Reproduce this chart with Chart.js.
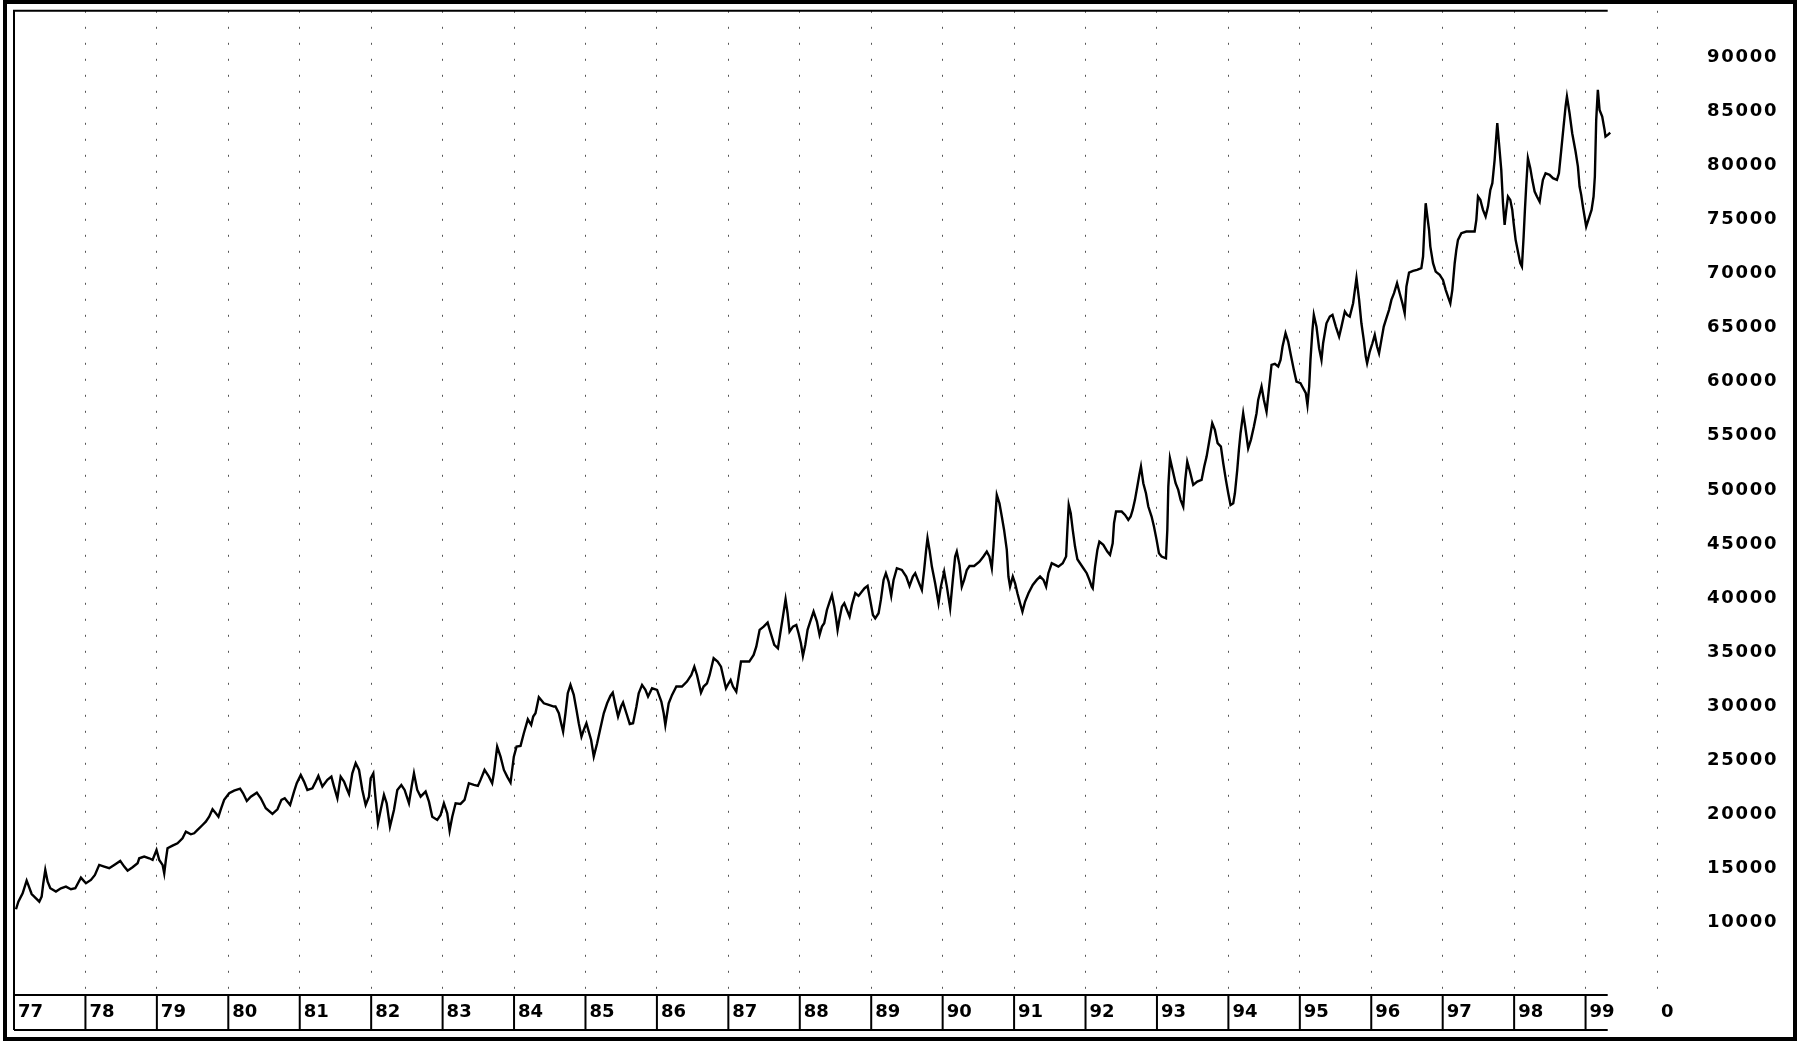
<!DOCTYPE html>
<html>
<head>
<meta charset="utf-8">
<script src="https://cdn.jsdelivr.net/npm/chart.js@4"></script>
<style>
  html, body { margin: 0; padding: 0; background: #fff; }
</style>
</head>
<body>
<canvas id="myChart" width="1804" height="1058"></canvas>
<script>
// time (decimal year) of each vertex
let years = [
  1977.028, 1977.061, 1977.121, 1977.177, 1977.200, 1977.247, 1977.308, 1977.354, 1977.387, 1977.410,
  1977.438, 1977.471, 1977.508, 1977.587, 1977.657, 1977.727, 1977.797, 1977.858, 1977.937, 1978.007,
  1978.077, 1978.133, 1978.193, 1978.263, 1978.333, 1978.403, 1978.487, 1978.543, 1978.590, 1978.660,
  1978.730, 1978.753, 1978.823, 1978.893, 1978.940, 1978.995, 1979.033, 1979.080, 1979.103, 1979.126,
  1979.149, 1979.219, 1979.289, 1979.359, 1979.406, 1979.476, 1979.522, 1979.569, 1979.639, 1979.685,
  1979.732, 1979.779, 1979.825, 1979.862, 1979.895, 1979.942, 1980.012, 1980.081, 1980.165, 1980.207,
  1980.259, 1980.315, 1980.399, 1980.455, 1980.525, 1980.618, 1980.688, 1980.744, 1980.790, 1980.865,
  1980.920, 1980.958, 1981.014, 1981.060, 1981.107, 1981.177, 1981.224, 1981.261, 1981.317, 1981.387,
  1981.443, 1981.480, 1981.527, 1981.573, 1981.620, 1981.666, 1981.690, 1981.736, 1981.783, 1981.830,
  1981.876, 1981.923, 1981.969, 1981.993, 1982.030, 1982.063, 1982.095, 1982.133, 1982.179, 1982.217,
  1982.263, 1982.319, 1982.366, 1982.422, 1982.468, 1982.529, 1982.566, 1982.599, 1982.645, 1982.692,
  1982.762, 1982.809, 1982.855, 1982.925, 1982.972, 1983.018, 1983.065, 1983.098, 1983.135, 1983.182,
  1983.251, 1983.307, 1983.368, 1983.438, 1983.494, 1983.531, 1983.587, 1983.648, 1983.694, 1983.718,
  1983.764, 1983.811, 1983.858, 1983.904, 1983.951, 1983.997, 1984.035, 1984.091, 1984.137, 1984.193,
  1984.240, 1984.268, 1984.300, 1984.347, 1984.417, 1984.487, 1984.557, 1984.580, 1984.627, 1984.659,
  1984.687, 1984.720, 1984.752, 1984.790, 1984.836, 1984.874, 1984.906, 1984.944, 1984.976, 1985.013,
  1985.046, 1985.079, 1985.116, 1985.163, 1985.209, 1985.256, 1985.303, 1985.349, 1985.382, 1985.419,
  1985.456, 1985.498, 1985.526, 1985.573, 1985.620, 1985.666, 1985.713, 1985.745, 1985.792, 1985.839,
  1985.876, 1985.932, 1986.002, 1986.062, 1986.095, 1986.118, 1986.165, 1986.212, 1986.272, 1986.351,
  1986.421, 1986.482, 1986.524, 1986.561, 1986.617, 1986.654, 1986.701, 1986.738, 1986.794, 1986.850,
  1986.897, 1986.934, 1986.967, 1987.004, 1987.032, 1987.065, 1987.111, 1987.144, 1987.177, 1987.237,
  1987.293, 1987.354, 1987.391, 1987.438, 1987.494, 1987.550, 1987.587, 1987.643, 1987.694, 1987.727,
  1987.764, 1987.801, 1987.829, 1987.857, 1987.904, 1987.951, 1987.983, 1988.016, 1988.044, 1988.077,
  1988.109, 1988.146, 1988.193, 1988.240, 1988.277, 1988.310, 1988.342, 1988.380, 1988.418, 1988.450,
  1988.483, 1988.511, 1988.529, 1988.557, 1988.590, 1988.623, 1988.660, 1988.697, 1988.730, 1988.777,
  1988.823, 1988.870, 1988.907, 1988.949, 1988.986, 1989.024, 1989.056, 1989.103, 1989.135, 1989.173,
  1989.205, 1989.243, 1989.280, 1989.313, 1989.359, 1989.429, 1989.490, 1989.536, 1989.583, 1989.616,
  1989.662, 1989.709, 1989.741, 1989.769, 1989.788, 1989.816, 1989.849, 1989.895, 1989.942, 1989.975,
  1990.021, 1990.059, 1990.105, 1990.142, 1990.175, 1990.198, 1990.236, 1990.268, 1990.301, 1990.338,
  1990.376, 1990.441, 1990.515, 1990.571, 1990.618, 1990.655, 1990.688, 1990.711, 1990.735, 1990.758,
  1990.795, 1990.828, 1990.860, 1990.898, 1990.921, 1990.944, 1990.982, 1991.014, 1991.047, 1991.084,
  1991.117, 1991.154, 1991.201, 1991.261, 1991.317, 1991.364, 1991.411, 1991.448, 1991.480, 1991.527,
  1991.574, 1991.620, 1991.681, 1991.728, 1991.746, 1991.765, 1991.793, 1991.821, 1991.853, 1991.886,
  1991.923, 1991.970, 1992.017, 1992.054, 1992.087, 1992.101, 1992.133, 1992.166, 1992.194, 1992.249,
  1992.305, 1992.343, 1992.380, 1992.399, 1992.427, 1992.506, 1992.553, 1992.599, 1992.632, 1992.660,
  1992.692, 1992.725, 1992.753, 1992.776, 1992.809, 1992.846, 1992.879, 1992.925, 1992.958, 1992.995,
  1993.028, 1993.065, 1993.126, 1993.145, 1993.159, 1993.182, 1993.219, 1993.261, 1993.298, 1993.331,
  1993.368, 1993.396, 1993.424, 1993.462, 1993.508, 1993.564, 1993.625, 1993.662, 1993.695, 1993.727,
  1993.774, 1993.811, 1993.849, 1993.895, 1993.928, 1993.965, 1993.998, 1994.030, 1994.068, 1994.091,
  1994.124, 1994.147, 1994.170, 1994.207, 1994.235, 1994.277, 1994.315, 1994.357, 1994.394, 1994.417,
  1994.464, 1994.497, 1994.534, 1994.566, 1994.604, 1994.650, 1994.697, 1994.730, 1994.758, 1994.800,
  1994.837, 1994.874, 1994.916, 1994.953, 1995.009, 1995.047, 1995.084, 1995.107, 1995.131, 1995.149,
  1995.177, 1995.196, 1995.233, 1995.270, 1995.303, 1995.326, 1995.373, 1995.420, 1995.457, 1995.504,
  1995.550, 1995.583, 1995.630, 1995.662, 1995.699, 1995.746, 1995.793, 1995.830, 1995.862, 1995.895,
  1995.923, 1995.942, 1995.979, 1996.016, 1996.049, 1996.081, 1996.109, 1996.142, 1996.175, 1996.212,
  1996.249, 1996.282, 1996.319, 1996.361, 1996.398, 1996.436, 1996.468, 1996.492, 1996.529, 1996.585,
  1996.641, 1996.701, 1996.725, 1996.748, 1996.762, 1996.785, 1996.809, 1996.827, 1996.865, 1996.902,
  1996.958, 1997.004, 1997.042, 1997.074, 1997.107, 1997.135, 1997.168, 1997.191, 1997.214, 1997.261,
  1997.331, 1997.401, 1997.447, 1997.471, 1997.494, 1997.527, 1997.564, 1997.601, 1997.634, 1997.667,
  1997.695, 1997.727, 1997.750, 1997.764, 1997.788, 1997.820, 1997.844, 1997.867, 1997.890, 1997.914,
  1997.946, 1997.974, 1997.993, 1998.021, 1998.053, 1998.086, 1998.109, 1998.133, 1998.151, 1998.170,
  1998.193, 1998.226, 1998.254, 1998.287, 1998.319, 1998.357, 1998.380, 1998.403, 1998.440, 1998.496,
  1998.543, 1998.599, 1998.627, 1998.660, 1998.692, 1998.720, 1998.739, 1998.776, 1998.813, 1998.860,
  1998.893, 1998.916, 1998.939, 1998.963, 1998.986, 1999.009, 1999.047, 1999.084, 1999.112, 1999.130,
  1999.149, 1999.172, 1999.196, 1999.233, 1999.266, 1999.279, 1999.312, 1999.345
];

let values = [
  11130, 11830, 12600, 13780, 13380, 12540, 12140, 11830, 12300, 13530,
  14760, 13680, 13070, 12760, 13070, 13220, 12980, 13070, 14050, 13530,
  13840, 14300, 15230, 15070, 14920, 15230, 15600, 15070, 14700, 15010,
  15380, 15840, 16000, 15840, 15690, 16610, 15690, 15230, 14450, 15690,
  16770, 17010, 17230, 17690, 18310, 18060, 18150, 18460, 18920, 19230,
  19690, 20370, 20000, 19690, 20370, 21240, 21850, 22100, 22280, 21850,
  21140, 21540, 21910, 21390, 20470, 19940, 20370, 21240, 21390, 20770,
  22010, 22780, 23550, 22930, 22160, 22310, 22930, 23460, 22470, 23090,
  23390, 22470, 21390, 23390, 22930, 22160, 21790, 23700, 24630, 24010,
  22160, 20770, 21540, 23240, 23700, 21240, 19080, 20310, 21700, 20930,
  18770, 20310, 22160, 22620, 22160, 20930, 22470, 23700, 22160, 21540,
  22010, 21080, 19690, 19390, 19850, 20930, 20000, 18400, 19690, 20930,
  20870, 21240, 22780, 22620, 22530, 23090, 24010, 23390, 22780, 23700,
  26170, 25240, 24010, 23390, 22840, 25240, 26170, 26230, 27400, 28690,
  28170, 28940, 29250, 30730, 30170, 30020, 29870, 29870, 29250, 28330,
  27550, 29250, 31100, 31870, 30950, 29560, 28330, 27090, 27710, 28330,
  27550, 26780, 25240, 26480, 27860, 29250, 30170, 30850, 31160, 30020,
  28940, 29870, 30240, 29250, 28260, 28330, 29870, 31100, 31870, 31410,
  30790, 31560, 31410, 30330, 29250, 28170, 30170, 30950, 31720, 31720,
  32180, 32790, 33560, 32790, 31160, 31720, 32020, 32790, 34340, 34030,
  33560, 32490, 31560, 32020, 32330, 31720, 31250, 32640, 34030, 34030,
  34030, 34640, 35410, 36960, 37260, 37630, 36800, 35570, 35260, 36650,
  38190, 39790, 38500, 36800, 37260, 37420, 36650, 35720, 34550, 35570,
  36960, 37730, 38650, 37730, 36490, 37260, 37570, 38800, 39580, 40190,
  39110, 37880, 36960, 38030, 39110, 39420, 38800, 38190, 39270, 40350,
  40100, 40500, 40810, 41020, 39730, 38340, 38030, 38500, 39730, 41580,
  42200, 41420, 40100, 41580, 42660, 42500, 41890, 41020, 41890, 42200,
  41420, 40650, 42500, 44350, 45430, 44350, 42810, 41270, 39420, 40960,
  42350, 40960, 38960, 41580, 43740, 44200, 42970, 40960, 41580, 42500,
  42870, 42870, 43270, 43740, 44200, 43740, 42660, 44660, 47130, 49440,
  48670, 47440, 46200, 44350, 41890, 40960, 41890, 41270, 40350, 39420,
  38650, 39580, 40350, 41120, 41580, 41890, 41580, 40960, 42200, 43120,
  42970, 42810, 43120, 43740, 46200, 48510, 47740, 46200, 44660, 43490,
  43120, 42660, 42200, 41580, 40960, 40810, 42810, 44350, 45120, 44820,
  44200, 43890, 44970, 46820, 47900, 47900, 47590, 47130, 47440, 48050,
  48980, 50210, 51290, 52060, 50520, 49590, 48360, 47440, 46510, 45280,
  44050, 43740, 43580, 46200, 50210, 52830, 51750, 50520, 49900, 48980,
  48360, 50830, 52520, 51600, 50360, 50670, 50830, 52060, 52980, 54220,
  56070, 55450, 54220, 53910, 52370, 50830, 49590, 48510, 48670, 49590,
  51750, 53600, 55140, 56990, 55760, 53750, 54530, 55760, 56990, 58220,
  59460, 58220, 57140, 59150, 61460, 61550, 61310, 61920, 63160, 64390,
  63620, 62380, 61000, 59920, 59770, 59300, 58840, 57760, 59460, 61920,
  64700, 66080, 65000, 63000, 61920, 63460, 65310, 65930, 66080, 65000,
  64080, 65000, 66390, 66080, 65930, 67160, 69500, 67470, 65310, 63770,
  62230, 61610, 62690, 63460, 64230, 63160, 62540, 63770, 65000, 65780,
  66550, 67470, 68090, 69010, 68090, 67160, 66240, 68700, 70000, 70150,
  70240, 70400, 71480, 74710, 76410, 75180, 73940, 72400, 70860, 70090,
  69780, 69320, 68400, 67780, 67160, 68400, 70860, 72090, 73020, 73640,
  73790, 73790, 73790, 74870, 77030, 76720, 75790, 75180, 76100, 77640,
  78260, 80420, 82570, 83810, 81960, 79490, 76410, 74410, 75790, 77030,
  76720, 75790, 74560, 73020, 71940, 70860, 70550, 73330, 75790, 78100,
  80570, 79650, 78570, 77490, 77030, 76560, 77640, 78570, 79180, 79030,
  78720, 78570, 79180, 81340, 83500, 85350, 86270, 84730, 82880, 81190,
  79800, 77950, 77180, 76100, 75180, 74250, 75020, 75790, 77030, 78880,
  84120, 86890, 85040, 84420, 83190, 82570, 82730, 82940
];

let xTicks = [1977, 1978, 1979, 1980, 1981, 1982, 1983, 1984, 1985, 1986, 1987, 1988,
              1989, 1990, 1991, 1992, 1993, 1994, 1995, 1996, 1997, 1998, 1999, 2000];
let xTickLabels = ['77', '78', '79', '80', '81', '82', '83', '84', '85', '86', '87', '88',
                   '89', '90', '91', '92', '93', '94', '95', '96', '97', '98', '99', '0'];
let yTicks = [10000, 15000, 20000, 25000, 30000, 35000, 40000, 45000, 50000,
              55000, 60000, 65000, 70000, 75000, 80000, 85000, 90000];

// where the boxed year strip and the top rule stop
let boxEnd = 1999.31;
let boxHeight = 35;
let labelFont = { family: 'DejaVu Sans', size: 18, weight: 'bold' };

// y labels in the picture sit well right of the plot and are spaced out a little
let spacedY = {
    id: 'spacedY',
    beforeDraw(chart) {
        let s = chart.scales.y;
        if (s._spaced) return;
        let orig = s.drawLabels.bind(s);
        s.drawLabels = function (area) {
            let ctx = this.ctx;
            let prev = ctx.letterSpacing;
            ctx.save();
            ctx.translate(50, 1);
            ctx.letterSpacing = '1.7px';
            orig(area);
            ctx.restore();
            ctx.letterSpacing = prev;
        };
        s._spaced = true;
    }
};

let frame = {
    id: 'frame',
    afterDraw(chart) {
        let { ctx, chartArea: area, scales: { x } } = chart;
        let left = x.getPixelForValue(xTicks[0]);
        let right = x.getPixelForValue(boxEnd);
        let boxBottom = area.bottom + boxHeight;
        ctx.save();
        ctx.strokeStyle = '#000';
        ctx.lineWidth = 2;
        ctx.beginPath();
        ctx.moveTo(right, area.top);
        ctx.lineTo(left, area.top);
        ctx.lineTo(left, boxBottom);
        ctx.moveTo(left, area.bottom);
        ctx.lineTo(right, area.bottom);
        ctx.moveTo(left, boxBottom);
        ctx.lineTo(right, boxBottom);
        xTicks.forEach(v => {
            if (v > boxEnd) return;
            let p = x.getPixelForValue(v);
            ctx.moveTo(p, area.bottom);
            ctx.lineTo(p, boxBottom);
        });
        ctx.stroke();
        ctx.lineWidth = 4;
        ctx.strokeRect(5, 2, chart.width - 14, chart.height - 21);
        ctx.restore();
    }
};

let myChart = document.getElementById('myChart').getContext('2d');

let newChart = new Chart(myChart, {
    type: 'line',
    data: {
        datasets: [{
            data: years.map((t, i) => ({ x: t, y: values[i] })),
            borderColor: '#000',
            borderWidth: 2.4,
            pointRadius: 0,
            tension: 0,
            fill: false
        }]
    },
    options: {
        responsive: false,
        animation: false,
        layout: { padding: { left: 14, top: 10, right: 26, bottom: 28 } },
        plugins: {
            legend: { display: false },
            tooltip: { enabled: false }
        },
        scales: {
            x: {
                type: 'linear',
                min: 1977,
                max: 2000,
                afterBuildTicks: axis => { axis.ticks = xTicks.map(v => ({ value: v })); },
                afterFit: axis => { axis.height = boxHeight; },
                grid: {
                    color: c => (c.tick && c.tick.value === 1977) ? 'rgba(0,0,0,0)' : '#555',
                    lineWidth: 1,
                    drawTicks: false
                },
                border: { display: false, dash: [2, 14] },
                ticks: {
                    autoSkip: false,
                    maxRotation: 0,
                    align: 'start',
                    labelOffset: 4,
                    padding: 7,
                    color: '#000',
                    font: labelFont,
                    callback: (v, i) => xTickLabels[i]
                }
            },
            y: {
                position: 'right',
                min: 3200,
                max: 94200,
                afterBuildTicks: axis => { axis.ticks = yTicks.map(v => ({ value: v })); },
                afterFit: axis => { axis.width = 121; },
                grid: { display: false, drawTicks: false },
                border: { display: false },
                ticks: {
                    padding: 0,
                    crossAlign: 'near',
                    color: '#000',
                    font: labelFont,
                    callback: v => String(v)
                }
            }
        }
    },
    plugins: [spacedY, frame]
});
</script>
</body>
</html>
